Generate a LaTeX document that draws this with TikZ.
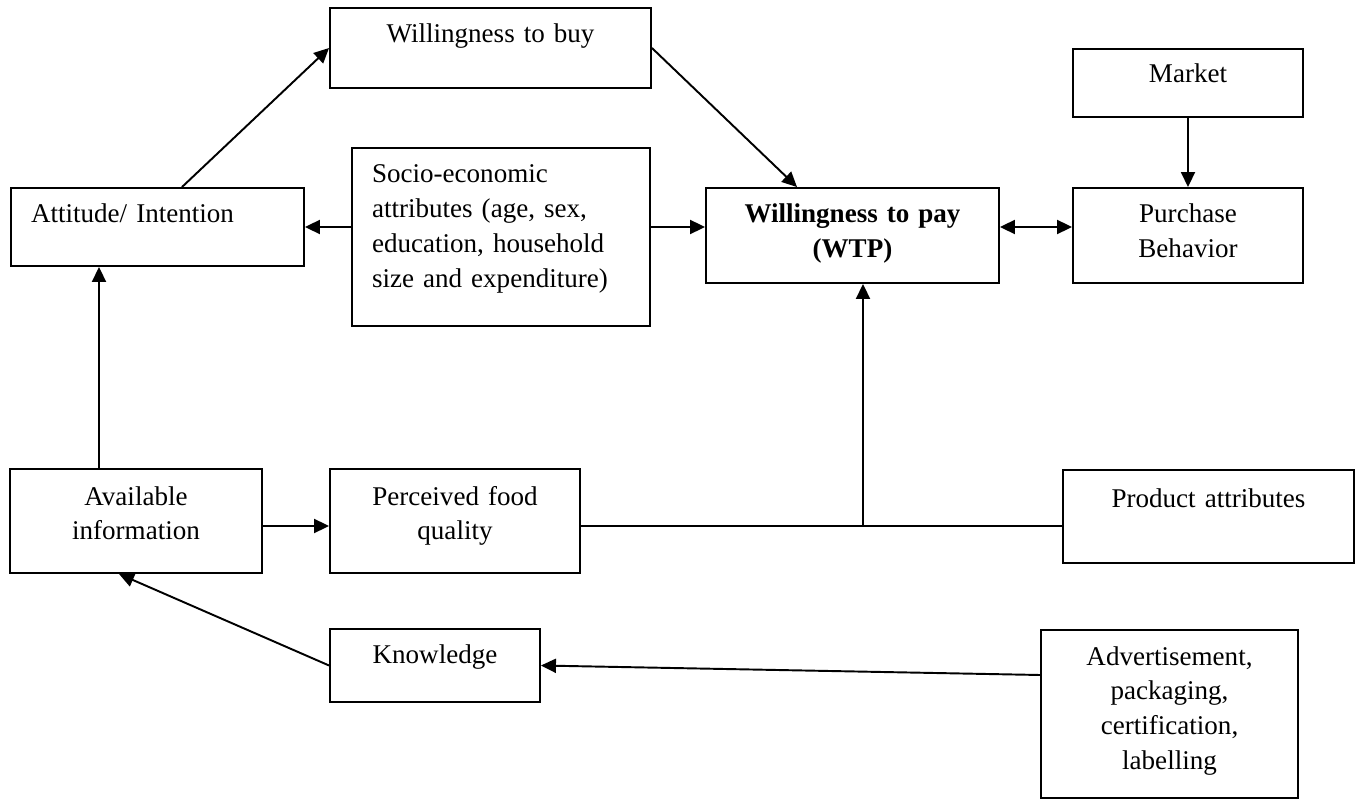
\documentclass[tikz,border=0pt]{standalone}
\usepackage{fontspec}
\setmainfont{Liberation Serif}
\usetikzlibrary{arrows.meta,calc}

\begin{document}
\begin{tikzpicture}[x=0.02cm,y=-0.02cm,
	box/.style={shape=rectangle,draw=black,line width=1.1pt,inner xsep=0pt,inner ysep=0pt,anchor=base,align=center,font=\fontsize{15.4pt}{19.9pt}\selectfont},
	lbox/.style={box,align=left,inner xsep=0.4cm},
	link/.style={line width=1.1pt},
	>={Triangle[length=0.3cm,width=0.28cm]}]
			\useasboundingbox (0,0) rectangle (1359,800);
			\node[box,text width=6.42cm,text height=0.70cm,text depth=0.90cm] (wtb) at (490.5,43) {Willingness to buy};
			\node[box,text width=4.60cm,text height=0.68cm,text depth=0.68cm] (mkt) at (1188,83) {Market};
			\node[lbox,text width=5.06cm,text height=0.70cm,text depth=0.86cm] (att) at (157.5,223) {Attitude/ Intention};
			\node[lbox,text width=5.16cm,text height=0.70cm,text depth=2.86cm] (soc) at (501,183) {Socio-economic\\attributes (age, sex,\\education, household\\size and expenditure)};
			\node[box,text width=5.86cm,text height=0.70cm,text depth=1.20cm,font=\fontsize{15.4pt}{19.9pt}\selectfont\bfseries] (wtp) at (852.5,223) {Willingness to pay\\(WTP)};
			\node[box,text width=4.60cm,text height=0.70cm,text depth=1.20cm] (pb) at (1188,223) {Purchase\\Behavior};
			\node[box,text width=5.04cm,text height=0.72cm,text depth=1.36cm] (info) at (136,505) {Available\\information};
			\node[box,text width=5.00cm,text height=0.72cm,text depth=1.36cm] (pfq) at (455,505) {Perceived food\\quality};
			\node[box,text width=5.82cm,text height=0.74cm,text depth=1.12cm] (prod) at (1208.5,507) {Product attributes};
			\node[box,text width=4.20cm,text height=0.68cm,text depth=0.78cm] (know) at (435,663) {Knowledge};
			\node[box,text width=5.14cm,text height=0.70cm,text depth=2.66cm] (adv) at (1169.5,665) {Advertisement,\\packaging,\\certification,\\labelling};
			\coordinate (jn) at (863,526);
			
			\path[->, link] ([xshift=0.49cm]att.north) edge (wtb.west);
			\path[->, link] (wtb.east) edge ([xshift=-1.11cm]wtp.north);
			\path[->, link] (soc.west |- att.east) edge (att.east);
			\path[->, link] (soc.east |- att.east) edge (wtp.west |- att.east);
			\path[<->, link] (wtp.east |- att.east) edge (pb.west |- att.east);
			\path[->, link] (mkt) edge (pb);
			\path[->, link] ([xshift=-0.74cm]info.north) edge ([xshift=-0.74cm]info.north |- att.south);
			\path[->, link] ([yshift=-0.1cm]info.east) edge ([yshift=-0.1cm]info.east -| pfq.west);
			\path[-, link] (pfq.east |- jn) edge (prod.west |- jn);
			\path[->, link] (jn) edge (jn |- wtp.south);
			\path[->, link] (know.west) edge ([xshift=-0.34cm]info.south);
			\path[->, link] ([yshift=0.78cm]adv.west) edge (know.east);
			\end{tikzpicture}
\end{document}
